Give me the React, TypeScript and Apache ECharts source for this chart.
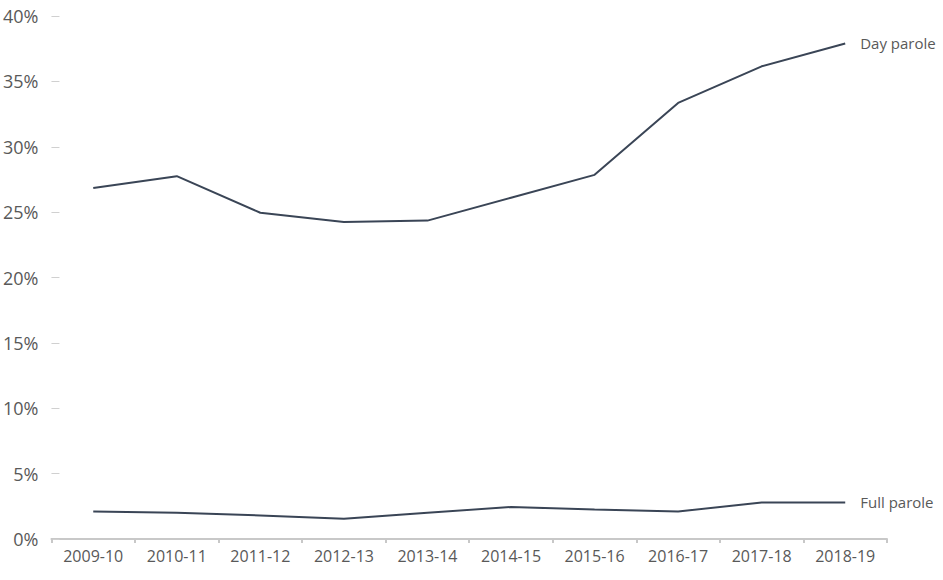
import React, { useEffect, useRef } from "react";
import * as echarts from "echarts";

const categories = ["2009-10", "2010-11", "2011-12", "2012-13", "2013-14", "2014-15", "2015-16", "2016-17", "2017-18", "2018-19"];
const dayParole = [26.85, 27.75, 24.95, 24.25, 24.35, 26.1, 27.85, 33.35, 36.15, 37.9];
const fullParole = [2.1, 2.0, 1.8, 1.55, 2.0, 2.45, 2.25, 2.1, 2.8, 2.8];
const seriesNames = ["Day parole", "Full parole"];

const FONT = "'Open Sans', sans-serif";
const LINE = "#3a4556";
const TEXT = "#595959";

export default function App() {
  const ref = useRef<HTMLDivElement>(null);
  useEffect(() => {
    if (!ref.current) return;
    const chart = echarts.init(ref.current, undefined, { renderer: "svg" });
    const mk = (name: string, data: number[]) => ({
      name,
      type: "line",
      data,
      symbol: "none",
      lineStyle: { color: LINE, width: 2 },
      itemStyle: { color: LINE },
      endLabel: {
        show: true,
        formatter: "{a}",
        color: TEXT,
        fontSize: 15,
        fontFamily: FONT,
        distance: 15,
      },
    });
    chart.setOption({
      animation: false,
      grid: { left: 51, right: 56, top: 16, bottom: 41, containLabel: false },
      xAxis: {
        type: "category",
        data: categories,
        boundaryGap: true,
        axisLine: { lineStyle: { color: "#c8c8c8", width: 2 } },
        axisTick: { show: true, length: 4, lineStyle: { color: "#c8c8c8", width: 2 } },
        axisLabel: { color: TEXT, fontSize: 16, fontFamily: FONT, margin: 9 },
      },
      yAxis: {
        type: "value",
        min: 0,
        max: 40,
        interval: 5,
        axisLine: { show: false },
        axisTick: { show: true, inside: true, length: 8, lineStyle: { color: "#d0d0d0", width: 1 } },
        splitLine: { show: false },
        axisLabel: { color: TEXT, fontSize: 18, fontFamily: FONT, margin: 13, formatter: "{value}%" },
      },
      series: [mk(seriesNames[0], dayParole), mk(seriesNames[1], fullParole)],
    });
    return () => chart.dispose();
  }, []);
  return <div ref={ref} style={{ width: 943, height: 580, position: "absolute", left: 0, top: 0 }} />;
}
